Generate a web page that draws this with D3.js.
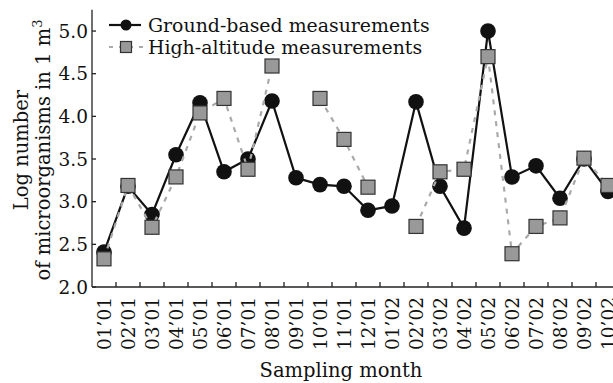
<!DOCTYPE html>
<html>
<head>
<meta charset="utf-8">
<script src="https://cdn.jsdelivr.net/npm/d3@7"></script>
<style>
  body { margin: 0; background: #fff; }
  text { font-family: "DejaVu Serif", serif; fill: #111; }
</style>
</head>
<body>
<div id="chart"></div>
<script>
// categories (sampling months)
var months = ["01’01","02’01","03’01","04’01","05’01","06’01","07’01","08’01","09’01","10’01","11’01","12’01",
              "01’02","02’02","03’02","04’02","05’02","06’02","07’02","08’02","09’02","10’02"];

// log number of microorganisms in 1 m3
var ground = [2.41, 3.18, 2.85, 3.55, 4.16, 3.35, 3.50, 4.18, 3.28, 3.20, 3.18, 2.90,
              2.95, 4.17, 3.18, 2.69, 5.00, 3.29, 3.42, 3.04, 3.50, 3.12];
var high   = [2.33, 3.19, 2.70, 3.29, 4.04, 4.21, 3.38, 4.59, null, 4.21, 3.73, 3.17,
              null, 2.71, 3.35, 3.38, 4.70, 2.39, 2.71, 2.81, 3.51, 3.19];

var yTicks = [2.0, 2.5, 3.0, 3.5, 4.0, 4.5, 5.0];

var seriesNames = ["Ground-based measurements", "High-altitude measurements"];

var W = 613, H = 383;
var margin = {left: 92, top: 10, bottom: 96};
var bandW = 24;

var svg = d3.select("#chart")
    .append("svg")
    .attr("width", W)
    .attr("height", H);

var x = d3.scaleBand()
    .domain(months)
    .range([margin.left, margin.left + months.length * bandW]);

var y = d3.scaleLinear()
    .domain([2, 5.25])
    .range([H - margin.bottom, margin.top - 0.3]);

// X axis
var xAxis = svg.append("g")
    .attr("transform", "translate(0," + y(2) + ")");
xAxis.append("line")
    .attr("x1", x.range()[0]).attr("x2", x.range()[1])
    .attr("stroke", "#222").attr("stroke-width", 1.3);
xAxis.selectAll(".tk")
    .data(months.slice(1))
    .enter().append("line")
    .attr("x1", function(d) { return x(d); })
    .attr("x2", function(d) { return x(d); })
    .attr("y1", 0).attr("y2", -5)
    .attr("stroke", "#222").attr("stroke-width", 1.3);
xAxis.selectAll(".lab")
    .data(months)
    .enter().append("text")
    .attr("transform", function(d) {
        return "translate(" + (x(d) + x.bandwidth() / 2) + ",10) rotate(-90)";
    })
    .attr("dy", "0.36em")
    .attr("text-anchor", "end")
    .style("font-size", "18.5px")
    .text(function(d) { return d; });

// Y axis
var yAxis = svg.append("g")
    .attr("transform", "translate(" + margin.left + ",0)");
yAxis.append("line")
    .attr("y1", y.range()[0]).attr("y2", y.range()[1])
    .attr("stroke", "#222").attr("stroke-width", 1.3);
yAxis.selectAll(".tk")
    .data(yTicks)
    .enter().append("line")
    .attr("y1", function(d) { return y(d); })
    .attr("y2", function(d) { return y(d); })
    .attr("x1", 0).attr("x2", 4)
    .attr("stroke", "#222").attr("stroke-width", 1.3);
yAxis.selectAll(".lab")
    .data(yTicks)
    .enter().append("text")
    .attr("x", -4)
    .attr("y", function(d) { return y(d); })
    .attr("dy", "0.36em")
    .attr("text-anchor", "end")
    .style("font-size", "18.5px")
    .text(function(d) { return d3.format(".1f")(d); });

// axis titles
svg.append("text")
    .attr("x", 341).attr("y", 377)
    .attr("text-anchor", "middle")
    .style("font-size", "19.5px")
    .text("Sampling month");

var yt = svg.append("text")
    .attr("transform", "translate(0,150) rotate(-90)")
    .attr("text-anchor", "middle")
    .style("font-size", "19.5px");
yt.append("tspan").attr("x", 0).attr("y", 28).text("Log number");
yt.append("tspan").attr("x", 0).attr("y", 50).text("of microorganisms in 1 m");
yt.append("tspan").attr("dy", -8).style("font-size", "13px").text("3");

var cx = function(d, i) { return x(months[i]) + x.bandwidth() / 2; };

// ground-based line + circles
svg.append("path")
    .datum(ground)
    .attr("fill", "none")
    .attr("stroke", "#111")
    .attr("stroke-width", 2.2)
    .attr("d", d3.line()
        .x(cx)
        .y(function(d) { return y(d); }));

svg.selectAll(".gc")
    .data(ground)
    .enter().append("circle")
    .attr("cx", cx)
    .attr("cy", function(d) { return y(d); })
    .attr("r", 7.8)
    .attr("fill", "#111");

// high-altitude dashed line + squares
svg.append("path")
    .datum(high)
    .attr("fill", "none")
    .attr("stroke", "#aaa")
    .attr("stroke-width", 2.2)
    .attr("stroke-dasharray", "5,6")
    .attr("d", d3.line()
        .defined(function(d) { return d != null; })
        .x(cx)
        .y(function(d) { return y(d); }));

var sq = 14;
svg.selectAll(".hs")
    .data(high.map(function(d, i) { return {v: d, i: i}; }).filter(function(d) { return d.v != null; }))
    .enter().append("rect")
    .attr("x", function(d) { return cx(d.v, d.i) - sq / 2; })
    .attr("y", function(d) { return y(d.v) - sq / 2; })
    .attr("width", sq).attr("height", sq)
    .attr("fill", "#999")
    .attr("stroke", "#333")
    .attr("stroke-width", 1.2);

// legend
var lg = svg.append("g");
lg.append("line")
    .attr("x1", 109).attr("x2", 141).attr("y1", 25).attr("y2", 25)
    .attr("stroke", "#111").attr("stroke-width", 2.2);
lg.append("circle")
    .attr("cx", 126).attr("cy", 25).attr("r", 5.5).attr("fill", "#111");
lg.append("line")
    .attr("x1", 109).attr("x2", 143).attr("y1", 47).attr("y2", 47)
    .attr("stroke", "#aaa").attr("stroke-width", 2.2)
    .attr("stroke-dasharray", "4,6");
lg.append("rect")
    .attr("x", 120.5).attr("y", 41.5).attr("width", 11).attr("height", 11)
    .attr("fill", "#999").attr("stroke", "#333").attr("stroke-width", 1.2);
lg.selectAll("text")
    .data(seriesNames)
    .enter().append("text")
    .attr("x", 148)
    .attr("y", function(d, i) { return 25 + i * 22; })
    .attr("dy", "0.36em")
    .style("font-size", "18.9px")
    .text(function(d) { return d; });
</script>
</body>
</html>
